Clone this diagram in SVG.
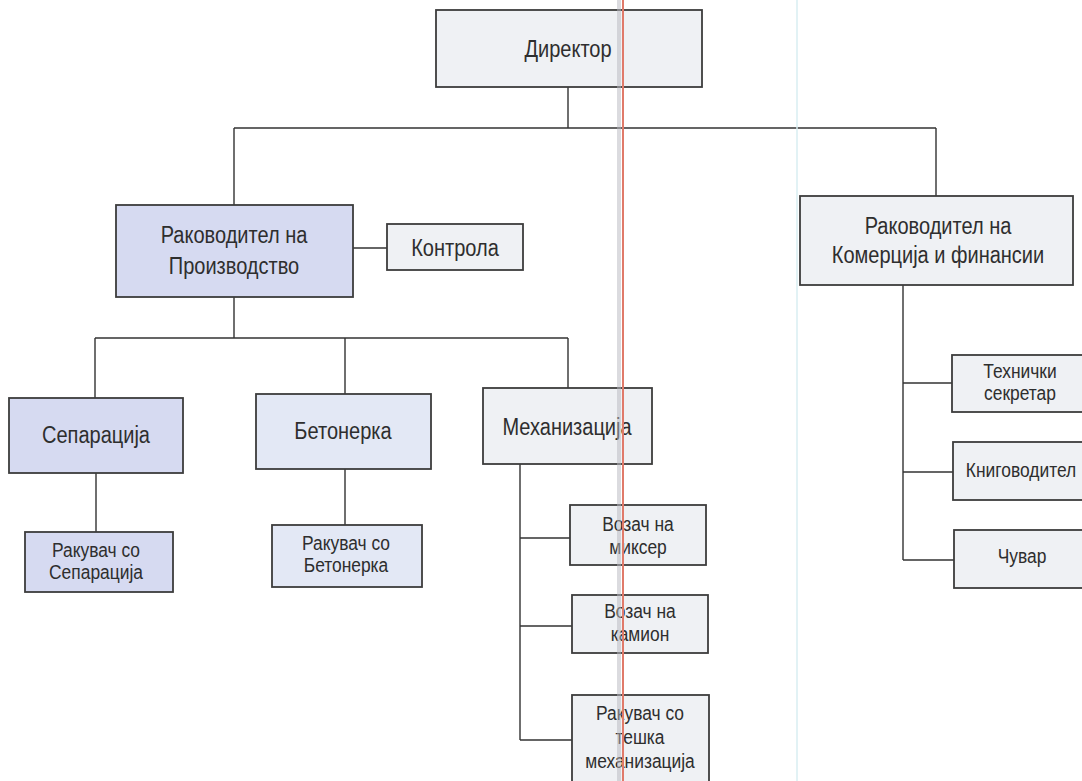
<svg xmlns="http://www.w3.org/2000/svg" width="1082" height="781" viewBox="0 0 1082 781">
<style>
.box{stroke:#3c3c3c;stroke-width:1.8}
.w{fill:#eff1f4}
.lav{fill:#d6daf1}
.lb{fill:#e3e8f5}
.t{font-family:"Liberation Sans",Arial,sans-serif;fill:#2e2e2e;text-anchor:middle}
.big{font-size:23px}
.sm{font-size:20px}
.c{stroke:#333;stroke-width:1.4;fill:none}
</style>
<rect width="1082" height="781" fill="#ffffff"/>
<g id="connectors">
<path class="c" d="M568 87V128M234 128H936M234 128V205M936 128V196"/>
<path class="c" d="M353 248H387"/>
<path class="c" d="M234 297V338M95 338H568M95 338V398M345 338V394M568 338V388"/>
<path class="c" d="M96 473V532M345 469V525"/>
<path class="c" d="M520 464V740M520 538H570M520 626H572M520 740H572"/>
<path class="c" d="M903 285V560M903 383H952M903 472H953M903 560H954"/>
</g>
<g id="director"><rect class="box w" x="436" y="10" width="266" height="77"/><text class="t big" transform="translate(568 57) scale(0.87 1)">Директор</text></g>
<g id="production"><rect class="box lav" x="116" y="205" width="237" height="92"/><text class="t big" transform="translate(234 243) scale(0.87 1)">Раководител на</text><text class="t big" transform="translate(234 274) scale(0.87 1)">Производство</text></g>
<g id="control"><rect class="box w" x="387" y="224" width="136" height="46"/><text class="t big" transform="translate(455 256) scale(0.87 1)">Контрола</text></g>
<g id="commerce"><rect class="box w" x="800" y="196" width="273" height="89"/><text class="t big" transform="translate(938 234) scale(0.87 1)">Раководител на</text><text class="t big" transform="translate(938 263) scale(0.87 1)">Комерција и финансии</text></g>
<g id="separacija"><rect class="box lav" x="9" y="398" width="174" height="75"/><text class="t big" transform="translate(96 443) scale(0.87 1)">Сепарација</text></g>
<g id="betonerka"><rect class="box lb" x="256" y="394" width="175" height="75"/><text class="t big" transform="translate(343 439) scale(0.87 1)">Бетонерка</text></g>
<g id="mehanizacija"><rect class="box w" x="483" y="388" width="169" height="76"/><text class="t big" transform="translate(567 435) scale(0.87 1)">Механизација</text></g>
<g id="rak-sep"><rect class="box lav" x="25" y="532" width="148" height="60"/><text class="t sm" transform="translate(96 557) scale(0.87 1)">Ракувач со</text><text class="t sm" transform="translate(96 579) scale(0.87 1)">Сепарација</text></g>
<g id="rak-bet"><rect class="box lb" x="272" y="525" width="150" height="62"/><text class="t sm" transform="translate(346 550) scale(0.87 1)">Ракувач со</text><text class="t sm" transform="translate(346 572) scale(0.87 1)">Бетонерка</text></g>
<g id="vozac-mikser"><rect class="box w" x="570" y="505" width="136" height="60"/><text class="t sm" transform="translate(638 531) scale(0.87 1)">Возач на</text><text class="t sm" transform="translate(638 554) scale(0.87 1)">миксер</text></g>
<g id="vozac-kamion"><rect class="box w" x="572" y="595" width="136" height="58"/><text class="t sm" transform="translate(640 618) scale(0.87 1)">Возач на</text><text class="t sm" transform="translate(640 641) scale(0.87 1)">камион</text></g>
<g id="rak-meh"><rect class="box w" x="572" y="695" width="137" height="95"/><text class="t sm" transform="translate(640 720) scale(0.87 1)">Ракувач со</text><text class="t sm" transform="translate(640 744) scale(0.87 1)">тешка</text><text class="t sm" transform="translate(640 768) scale(0.87 1)">механизација</text></g>
<g id="teh-sekretar"><rect class="box w" x="952" y="355" width="140" height="57"/><text class="t sm" transform="translate(1020 378) scale(0.87 1)">Технички</text><text class="t sm" transform="translate(1020 400) scale(0.87 1)">секретар</text></g>
<g id="knigovoditel"><rect class="box w" x="953" y="442" width="140" height="58"/><text class="t sm" transform="translate(1021 477) scale(0.87 1)">Книговодител</text></g>
<g id="chuvar"><rect class="box w" x="954" y="530" width="140" height="58"/><text class="t sm" transform="translate(1022 563) scale(0.87 1)">Чувар</text></g>
<line x1="797" y1="0" x2="797" y2="781" stroke="#d8eef2" stroke-width="1.5"/>
<line x1="619" y1="0" x2="619" y2="781" stroke="#b8b8c0" stroke-width="4" opacity="0.5"/>
<line x1="623" y1="0" x2="623" y2="781" stroke="#e07a6a" stroke-width="2"/>
</svg>
